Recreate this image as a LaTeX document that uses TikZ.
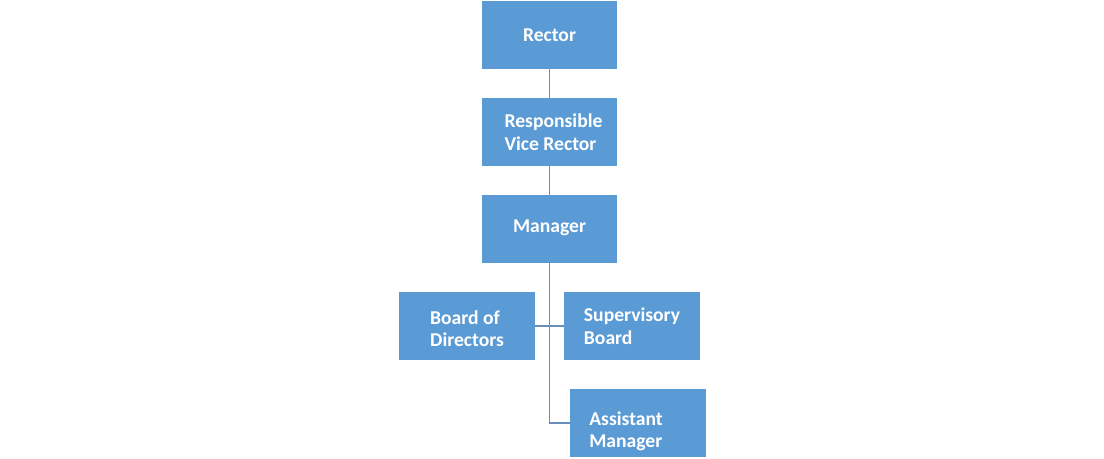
\documentclass[tikz,border=0pt]{standalone}
\usepackage{fontspec}
\setmainfont{Carlito}
\definecolor{boxblue}{HTML}{5B9BD5}
\definecolor{lineblue}{HTML}{6A8EBB}
\tikzset{
    orgbox/.style={fill=boxblue, text=white, font=\bfseries\fontsize{14.7pt}{16.8pt}\selectfont,
        minimum width=101.5pt, minimum height=51pt, inner sep=0pt, align=left},
    orgline/.style={draw=lineblue, line width=0.8pt}
}
\begin{document}
\begin{tikzpicture}[x=0.75pt, y=0.75pt]
            \useasboundingbox (0,0) rectangle (1104,-458);

            \foreach \n/\x/\y/\t in {%
                rector/549.5/-35/Rector,
                vice/549.5/-132/{\hspace*{6pt}Responsible\\\hspace*{6pt}Vice Rector},
                manager/549.5/-229/\raisebox{4pt}{Manager},
                board/467/-326/{\rule{0pt}{14pt}Board of\\Directors},
                supervisory/632/-326/{Supervisory\\Board},
                assistant/638/-423/{\rule{0pt}{23pt}\hspace*{-18pt}Assistant\\\hspace*{-18pt}Manager}%
                }{
                \node[orgbox] (\n) at (\x, \y) {\t};
            }

            \foreach \u/\v in {%
                rector/vice,
                vice/manager,
                board/supervisory%
                }{
                \draw[orgline] (\u) -- (\v);
            }
            \draw[orgline] (manager.south) |- (assistant.west);
        \end{tikzpicture}
\end{document}
